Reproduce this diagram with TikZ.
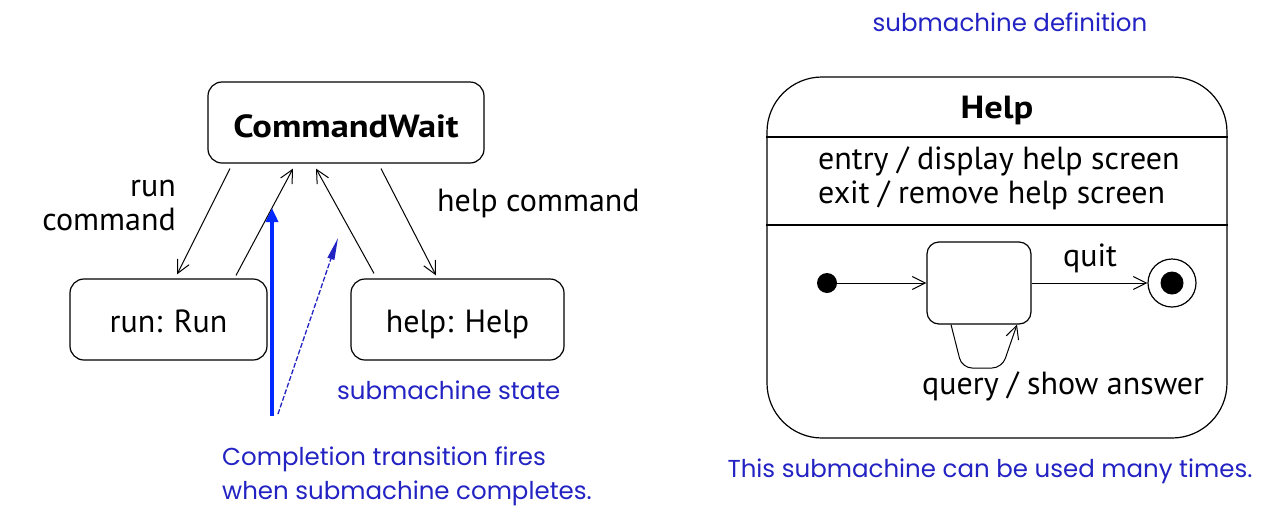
\documentclass[tikz,border=0pt]{standalone}
\usepackage{fontspec}
\setmainfont{PT Sans}
\newfontfamily\widebold[FakeStretch=1.14]{PT Sans Bold}
\newfontfamily\bluefont{Poppins}
\usetikzlibrary{arrows.meta}
\definecolor{noteblue}{RGB}{35,35,195}
\definecolor{arrowblue}{RGB}{0,40,255}
\begin{document}
\begin{tikzpicture}[x=1pt,y=-1pt,
  state/.style={draw, line width=1.2pt, rounded corners=14pt, inner sep=0pt, fill=white},
  txt/.style={font=\fontsize{32}{34}\selectfont, inner sep=0pt},
  boldtxt/.style={font=\widebold\fontsize{32}{34}\selectfont, inner sep=0pt},
  note/.style={font=\bluefont\fontsize{24.5}{34}\selectfont, text=noteblue, inner sep=0pt},
  tr/.style={line width=1pt, -{Straight Barb[length=13pt,width=13pt,line width=1pt]}},
]
\useasboundingbox (0,0) rectangle (1278,512);
% left panel
\node[state, minimum width=276pt, minimum height=81pt, boldtxt, text height=30pt, text depth=0pt] (cw) at (346,122.5) {CommandWait};
\node[state, minimum width=197pt, minimum height=81pt, txt, text height=26pt, text depth=0pt] (run) at (168.5,319.5) {run: Run};
\node[state, minimum width=213pt, minimum height=81pt, txt, text height=26pt, text depth=0pt] (help) at (457.5,319.5) {help: Help};

\draw[tr] ([xshift=-116pt,yshift=-5pt]cw.south) -- ([xshift=8.5pt,yshift=4pt]run.north);
\draw[tr] ([xshift=67.5pt,yshift=3pt]run.north) -- ([xshift=-53pt,yshift=-5pt]cw.south);
\draw[tr] ([xshift=-83.5pt,yshift=5pt]help.north) -- ([xshift=-30pt,yshift=-5pt]cw.south);
\draw[tr] ([xshift=35pt,yshift=-5pt]cw.south) -- ([xshift=-21.5pt,yshift=3pt]help.north);

\node[txt, align=right, anchor=east] (lrun) at (176,205) {run\\command};
\node[txt, anchor=base west] (lhelp) at (437,211) {help command};

\coordinate (b1s) at (272,416);
\coordinate (b1e) at (272,208);
\draw[arrowblue, line width=3.5pt, -{Triangle[length=14pt,width=12pt]}] (b1s) -- (b1e);
\coordinate (b2s) at (278,414);
\coordinate (b2e) at (338,238);
\draw[noteblue, line width=1.3pt, dash pattern=on 5pt off 2pt, -{Triangle[length=22pt,width=7pt]}] (b2s) -- (b2e);

\node[note, anchor=west] (nstate) at (337,390) {submachine state};
\node[note, align=left, anchor=west] (ncomp) at (222,476) {Completion transition fires\\when submachine completes.};

% right panel
\node[note] (ndef) at (1010,22) {submachine definition};
\node[draw, line width=1.2pt, rounded corners=55pt, minimum width=460pt, minimum height=361pt, inner sep=0pt] (hd) at (997,257.5) {};
\node[boldtxt, anchor=base] (hname) at (997,118) {Help};
\coordinate (s1) at (0,137);
\coordinate (s2) at (0,225);
\draw[line width=1.2pt] (hd.west |- s1) -- (hd.east |- s1);
\draw[line width=1.2pt] (hd.west |- s2) -- (hd.east |- s2);
\node[txt, align=left, anchor=west] (acts) at (818,178) {entry / display help screen\\exit / remove help screen};

\node[circle, fill=black, minimum size=20pt, inner sep=0pt] (init) at (827,283) {};
\node[state, rounded corners=12pt, minimum width=104pt, minimum height=82pt] (inner) at (979,283) {};
\node[circle, draw, line width=1.2pt, minimum size=48pt, inner sep=0pt] (fin) at (1172,283) {};
\node[circle, fill=black, minimum size=23pt, inner sep=0pt] (finc) at (fin) {};

\draw[tr] (init) -- (inner.west);
\draw[tr] (inner.east) -- (fin.west);
\node[txt, anchor=base] (lquit) at (1090,266) {quit};
\coordinate (lp1) at (962,368);
\coordinate (lp2) at (1002,368);
\draw[tr, rounded corners=10pt] ([xshift=-28pt]inner.south) -- (lp1) -- (lp2) -- ([xshift=38pt]inner.south);
\node[txt, anchor=base west] (lquery) at (922,394) {query / show answer};

\node[note] (nmany) at (990,471) {This submachine can be used many times.};
\end{tikzpicture}
\end{document}
